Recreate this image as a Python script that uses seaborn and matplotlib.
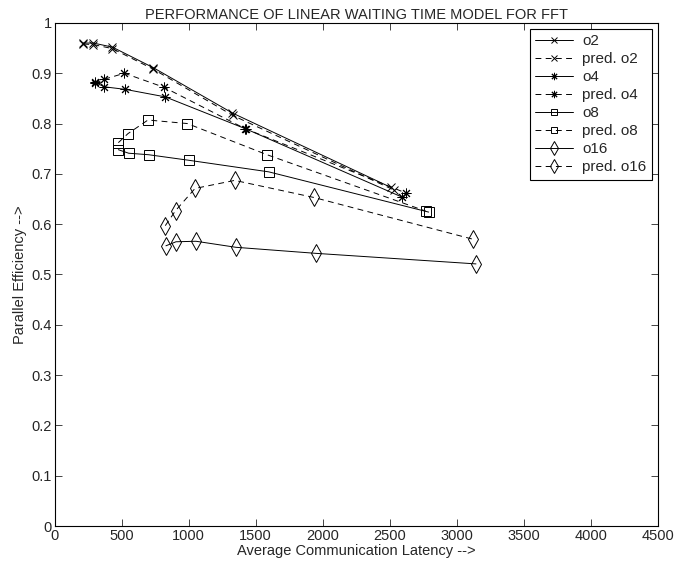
import pandas as pd
import seaborn as sns
import matplotlib
matplotlib.use('Agg')
import matplotlib.pyplot as plt

# values
o2_x = [215, 289, 431, 737, 1326, 2509]
o2_y = [0.960, 0.960, 0.952, 0.911, 0.821, 0.673]
pred_o2_x = [215, 289, 431, 737, 1330, 2530]
pred_o2_y = [0.958, 0.957, 0.949, 0.908, 0.816, 0.668]

o4_x = [302, 371, 526, 826, 1430, 2590]
o4_y = [0.882, 0.873, 0.868, 0.853, 0.789, 0.654]
pred_o4_x = [302, 371, 521, 817, 1420, 2620]
pred_o4_y = [0.880, 0.888, 0.900, 0.872, 0.790, 0.662]

o8_x = [476, 553, 702, 1001, 1597, 2790]
o8_y = [0.748, 0.741, 0.738, 0.727, 0.704, 0.624]
pred_o8_x = [476, 548, 697, 990, 1585, 2768]
pred_o8_y = [0.762, 0.780, 0.807, 0.800, 0.738, 0.626]

o16_x = [831, 906, 1055, 1353, 1948, 3143]
o16_y = [0.557, 0.565, 0.566, 0.554, 0.542, 0.521]
pred_o16_x = [826, 903, 1048, 1344, 1935, 3121]
pred_o16_y = [0.597, 0.627, 0.671, 0.687, 0.653, 0.570]

yticks = [0, 0.1, 0.2, 0.3, 0.4, 0.5, 0.6, 0.7, 0.8, 0.9, 1]
ytick_labels = ['0', '0.1', '0.2', '0.3', '0.4', '0.5', '0.6', '0.7', '0.8', '0.9', '1']
xticks = [0, 500, 1000, 1500, 2000, 2500, 3000, 3500, 4000, 4500]

sns.set_style('ticks')
plt.rcParams['font.family'] = ['Liberation Sans', 'DejaVu Sans']

fig = plt.figure(figsize=(6.78, 5.73), dpi=100)
ax = fig.add_axes([0.0804, 0.082, 0.89, 0.878])

star = (8, 2, 0)
series = [
    ('o2', o2_x, o2_y, 'x', '-', 6),
    ('pred. o2', pred_o2_x, pred_o2_y, 'x', '--', 6),
    ('o4', o4_x, o4_y, star, '-', 7),
    ('pred. o4', pred_o4_x, pred_o4_y, star, '--', 7),
    ('o8', o8_x, o8_y, 's', '-', 6.5),
    ('pred. o8', pred_o8_x, pred_o8_y, 's', '--', 6.5),
    ('o16', o16_x, o16_y, 'd', '-', 9),
    ('pred. o16', pred_o16_x, pred_o16_y, 'd', '--', 9),
]

for name, xs, ys, mk, ls, ms in series:
    df = pd.DataFrame({'x': xs, 'y': ys})
    sns.lineplot(data=df, x='x', y='y', ax=ax, sort=False, estimator=None,
                 color='k', linewidth=0.7, marker=mk,
                 markersize=ms, markerfacecolor='none', markeredgecolor='k',
                 markeredgewidth=0.7, label=name)
    if ls == '--':
        ax.lines[-1].set_dashes((6, 4.5))

ax.set_xlim(0, 4500)
ax.set_ylim(0, 1)
ax.set_xticks(xticks)
ax.set_xticklabels([str(t) for t in xticks])
ax.set_yticks(yticks)
ax.set_yticklabels(ytick_labels)
ax.tick_params(axis='both', which='both', direction='in', length=5, width=0.6,
               labelsize=10.5, top=True, right=True, pad=2)
for sp in ax.spines.values():
    sp.set_visible(True)
    sp.set_linewidth(0.8)
    sp.set_color('k')

ax.set_xlabel('Average Communication Latency -->', fontsize=10.5, labelpad=1)
ax.set_ylabel('Parallel Efficiency -->', fontsize=10.5, labelpad=3)
ax.set_title('PERFORMANCE OF LINEAR WAITING TIME MODEL FOR FFT', fontsize=10.5, pad=3)

handles, labels = ax.get_legend_handles_labels()
leg = ax.legend(handles, labels, loc='upper right', fontsize=11, frameon=True,
                fancybox=False, edgecolor='k', framealpha=1, handlelength=2.5,
                borderpad=0.35, labelspacing=0.26, handletextpad=0.6,
                borderaxespad=0.4, markerscale=0.75)
leg.get_frame().set_linewidth(0.8)

fig.savefig('out.png', dpi=100)
